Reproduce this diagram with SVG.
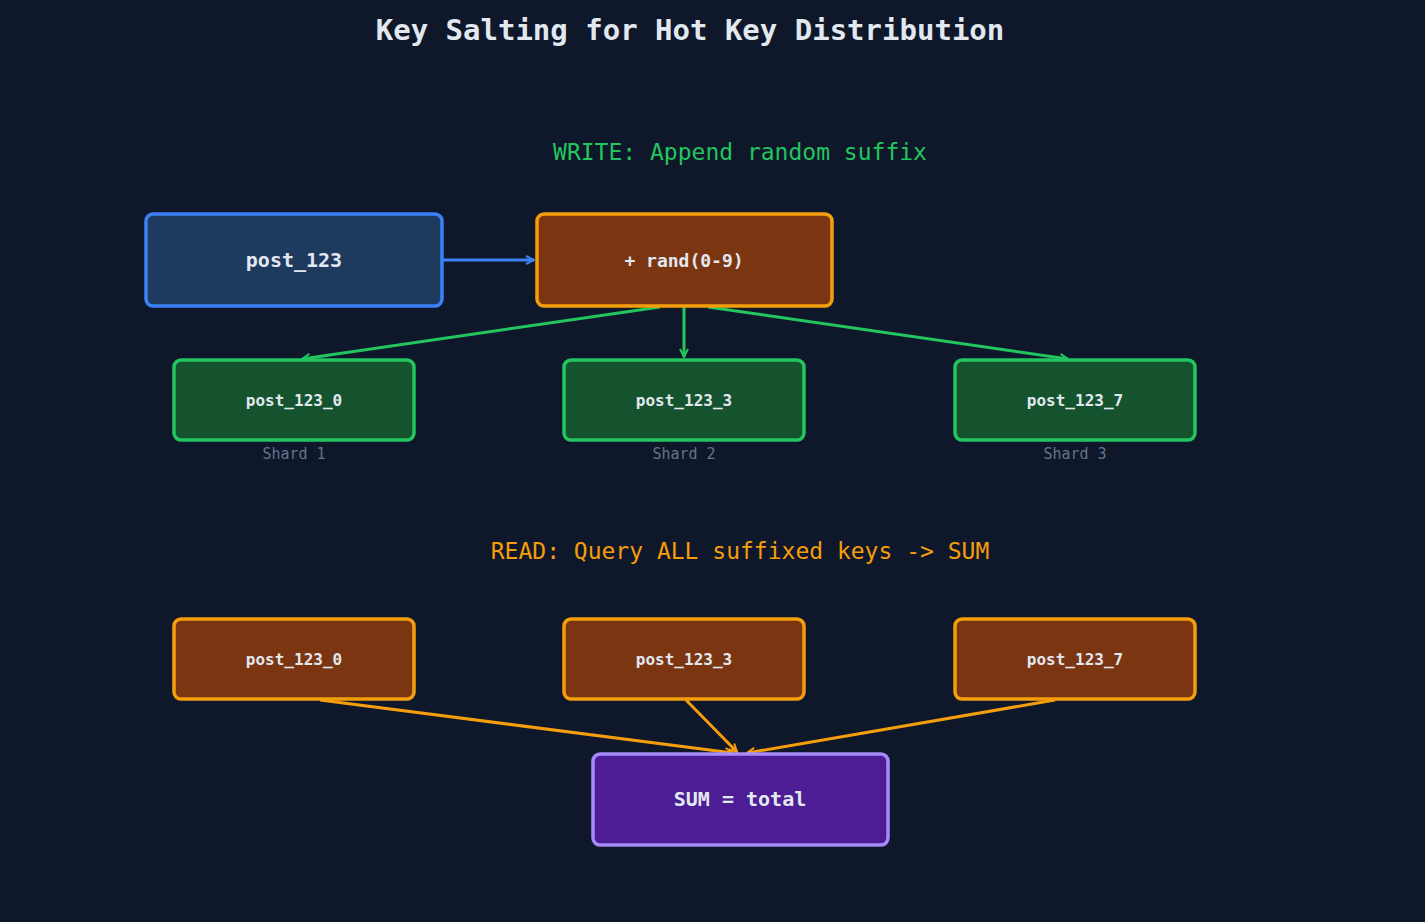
<svg xmlns="http://www.w3.org/2000/svg" width="1425" height="922" viewBox="0 0 1425 922">
<defs>
<style>
text{font-family:"DejaVu Sans Mono","Liberation Mono",monospace;text-anchor:middle;dominant-baseline:central}
.n{stroke-width:3.5}
.t{fill:#e2e8f0;font-weight:bold}
.lbl{fill:#64748b;font-size:15px}
</style>
<marker id="ab" viewBox="0 0 10 10" refX="9" refY="5" markerWidth="10" markerHeight="10" markerUnits="userSpaceOnUse" orient="auto"><path d="M1,1 L9,5 L1,9" fill="none" stroke="#3b82f6" stroke-width="2"/></marker>
<marker id="ag" viewBox="0 0 10 10" refX="9" refY="5" markerWidth="10" markerHeight="10" markerUnits="userSpaceOnUse" orient="auto"><path d="M1,1 L9,5 L1,9" fill="none" stroke="#22c55e" stroke-width="2"/></marker>
<marker id="ao" viewBox="0 0 10 10" refX="9" refY="5" markerWidth="10" markerHeight="10" markerUnits="userSpaceOnUse" orient="auto"><path d="M1,1 L9,5 L1,9" fill="none" stroke="#f59e0b" stroke-width="2"/></marker>
</defs>
<rect width="1425" height="922" fill="#0f172a"/>
<text x="690" y="30" font-size="29" class="t">Key Salting for Hot Key Distribution</text>
<text x="740" y="152" font-size="23" fill="#22c55e">WRITE: Append random suffix</text>
<text x="740" y="551" font-size="23" fill="#f59e0b">READ: Query ALL suffixed keys -&gt; SUM</text>
<g id="connectors" fill="none" stroke-width="3">
<line x1="443" y1="260" x2="534" y2="260" stroke="#3b82f6" marker-end="url(#ab)"/>
<line x1="660" y1="307" x2="302" y2="359" stroke="#22c55e" marker-end="url(#ag)"/>
<line x1="684" y1="307" x2="684" y2="357" stroke="#22c55e" marker-end="url(#ag)"/>
<line x1="708" y1="307" x2="1068" y2="359" stroke="#22c55e" marker-end="url(#ag)"/>
<line x1="320" y1="700" x2="733" y2="753" stroke="#f59e0b" marker-end="url(#ao)"/>
<line x1="686" y1="700" x2="737" y2="752" stroke="#f59e0b" marker-end="url(#ao)"/>
<line x1="1055" y1="700" x2="747" y2="753" stroke="#f59e0b" marker-end="url(#ao)"/>
</g>
<g id="post123"><rect class="n" x="146" y="214" width="296" height="92" rx="7" fill="#1e3a5f" stroke="#3b82f6"/><text x="294" y="260" font-size="20" class="t">post_123</text></g>
<g id="rand"><rect class="n" x="537" y="214" width="295" height="92" rx="7" fill="#7c3511" stroke="#f59e0b"/><text x="684" y="260" font-size="18" class="t">+ rand(0-9)</text></g>
<g id="w0"><rect class="n" x="174" y="360" width="240" height="80" rx="7" fill="#14532d" stroke="#22c55e"/><text x="294" y="400" font-size="16" class="t">post_123_0</text><text x="294" y="454" class="lbl">Shard 1</text></g>
<g id="w3"><rect class="n" x="564" y="360" width="240" height="80" rx="7" fill="#14532d" stroke="#22c55e"/><text x="684" y="400" font-size="16" class="t">post_123_3</text><text x="684" y="454" class="lbl">Shard 2</text></g>
<g id="w7"><rect class="n" x="955" y="360" width="240" height="80" rx="7" fill="#14532d" stroke="#22c55e"/><text x="1075" y="400" font-size="16" class="t">post_123_7</text><text x="1075" y="454" class="lbl">Shard 3</text></g>
<g id="r0"><rect class="n" x="174" y="619" width="240" height="80" rx="7" fill="#7c3511" stroke="#f59e0b"/><text x="294" y="659" font-size="16" class="t">post_123_0</text></g>
<g id="r3"><rect class="n" x="564" y="619" width="240" height="80" rx="7" fill="#7c3511" stroke="#f59e0b"/><text x="684" y="659" font-size="16" class="t">post_123_3</text></g>
<g id="r7"><rect class="n" x="955" y="619" width="240" height="80" rx="7" fill="#7c3511" stroke="#f59e0b"/><text x="1075" y="659" font-size="16" class="t">post_123_7</text></g>
<g id="sum"><rect class="n" x="593" y="754" width="295" height="91" rx="7" fill="#4c1d95" stroke="#a78bfa"/><text x="740" y="799" font-size="20" class="t">SUM = total</text></g>
</svg>
